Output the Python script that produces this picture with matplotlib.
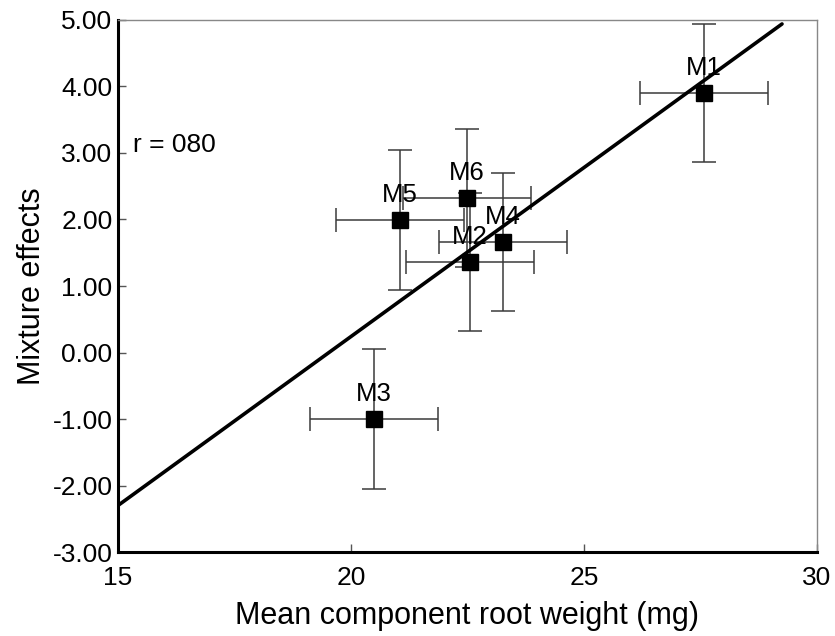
"""
Mixture effects vs mean component root weight
"""

import numpy as np
import matplotlib.pyplot as plt

# data
names = ['M1', 'M2', 'M3', 'M4', 'M5', 'M6']
root_wt = [27.58, 22.55, 20.49, 23.26, 21.05, 22.49]
mix_eff = [3.90, 1.36, -1.00, 1.66, 1.99, 2.32]
root_err = [1.37, 1.37, 1.37, 1.37, 1.37, 1.37]
mix_err = [1.04, 1.04, 1.05, 1.04, 1.05, 1.04]

# regression line end points
fit_x = [15.0, 29.25]
fit_y = [-2.30, 4.94]

plt.rcParams['font.family'] = ['Liberation Sans', 'DejaVu Sans']

fig = plt.figure(figsize=(8.35, 6.36), dpi=100)
ax = fig.add_axes([0.1413, 0.132, 0.8371, 0.8366])

ax.plot(fit_x, fit_y, color='black', linewidth=2.6, solid_capstyle='round', zorder=3)

ax.errorbar(root_wt, mix_eff, xerr=root_err, yerr=mix_err, fmt='none',
            ecolor='#3a3a3a', elinewidth=1.1, capsize=8.5, capthick=1.1, zorder=2)
ax.plot(root_wt, mix_eff, 's', color='black', markersize=11.5, zorder=4)

for n, xv, yv in zip(names, root_wt, mix_eff):
    ax.annotate(n, (xv, yv), xytext=(0, 18), textcoords='offset points',
                ha='center', va='center', fontsize=18.5, zorder=5)

ax.text(15.32, 3.12, 'r = 080', fontsize=19, ha='left', va='center')

ax.set_xlim(15, 30)
ax.set_ylim(-3, 5)
ax.set_xticks([15, 20, 25, 30])
ax.set_yticks(np.arange(-3, 6, 1))
ax.set_yticklabels(['%.2f' % v for v in np.arange(-3, 6, 1)])

ax.tick_params(direction='in', length=6, width=1, color='#555555',
               labelsize=19, pad=4)
ax.tick_params(axis='x', pad=10)
ax.set_xlabel('Mean component root weight (mg)', fontsize=22, labelpad=8)
ax.set_ylabel('Mixture effects', fontsize=22, labelpad=4)

for s in ['left', 'bottom']:
    ax.spines[s].set_linewidth(2.2)
    ax.spines[s].set_color('black')
for s in ['top', 'right']:
    ax.spines[s].set_linewidth(1.0)
    ax.spines[s].set_color('#888888')

fig.savefig('out.png', dpi=100)
